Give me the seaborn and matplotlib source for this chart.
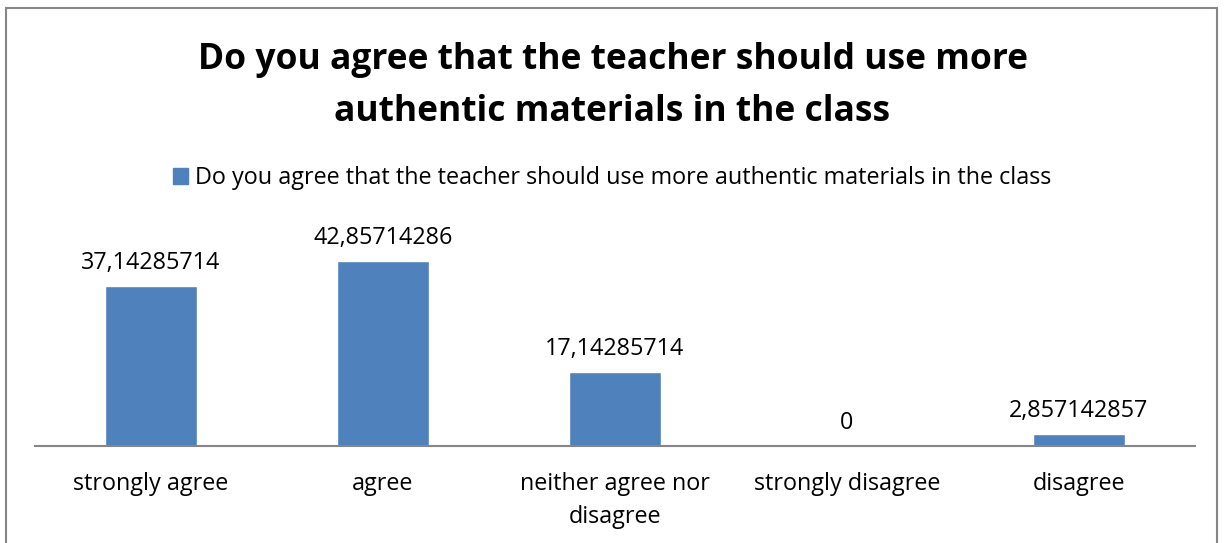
import matplotlib
matplotlib.use('Agg')
import matplotlib.pyplot as plt
import seaborn as sns
import pandas as pd
from matplotlib.patches import Rectangle

categories = ['strongly agree', 'agree', 'neither agree nor\ndisagree', 'strongly disagree', 'disagree']
values = [37.14285714, 42.85714286, 17.14285714, 0, 2.857142857]
series_name = 'Do you agree that the teacher should use more authentic materials in the class'
title = 'Do you agree that the teacher should use more\nauthentic materials in the class'

df = pd.DataFrame({'category': categories, 'value': values, 'series': series_name})

sns.set_style('white')
plt.rcParams['font.family'] = ['Open Sans', 'DejaVu Sans']
plt.rcParams['text.color'] = 'black'

fig = plt.figure(figsize=(12.25, 5.43), dpi=100)
ax = fig.add_axes([35 / 1225, 1 - 446 / 543, 1160 / 1225, 215.5 / 543])

sns.barplot(data=df, x='category', y='value', hue='series', palette=['#4F81BD'],
            saturation=1, width=0.4, ax=ax, legend=False)
ax.set_ylim(0, 50)
ax.set_xlim(-0.5, len(categories) - 0.5)

for c in ax.containers:
    ax.bar_label(c, labels=[f'{v:.10g}'.replace('.', ',') for v in values],
                 padding=8, fontsize=16.8, color='black')

sns.despine(ax=ax, left=True, top=True, right=True)
ax.spines['bottom'].set_color('#868686')
ax.spines['bottom'].set_linewidth(1.5)
ax.set_yticks([])
ax.set_xlabel('')
ax.set_ylabel('')
ax.set_xticks(range(len(categories)))
ax.set_xticklabels(categories, fontsize=16.8, color='black', linespacing=1.5)
ax.tick_params(axis='x', length=0, pad=19)

# title and legend
fig.text(0.5, 1 - 86 / 543, title, ha='center', va='center', fontsize=25.5,
         fontweight='bold', linespacing=1.6, color='black')
handle = Rectangle((0, 0), 1, 1, color='#4F81BD')
fig.legend([handle], [series_name], loc='center', bbox_to_anchor=(0.5, 1 - 178 / 543),
           frameon=False, fontsize=16.8, handlelength=0.65, handleheight=0.65,
           handletextpad=0.3)

# chart border
fig.patches.append(Rectangle((6 / 1225, -0.01), 1211 / 1225, 1 - 8 / 543 + 0.01,
                             transform=fig.transFigure, fill=False,
                             edgecolor='#868686', linewidth=1.5))

fig.savefig('out.png', dpi=100)
